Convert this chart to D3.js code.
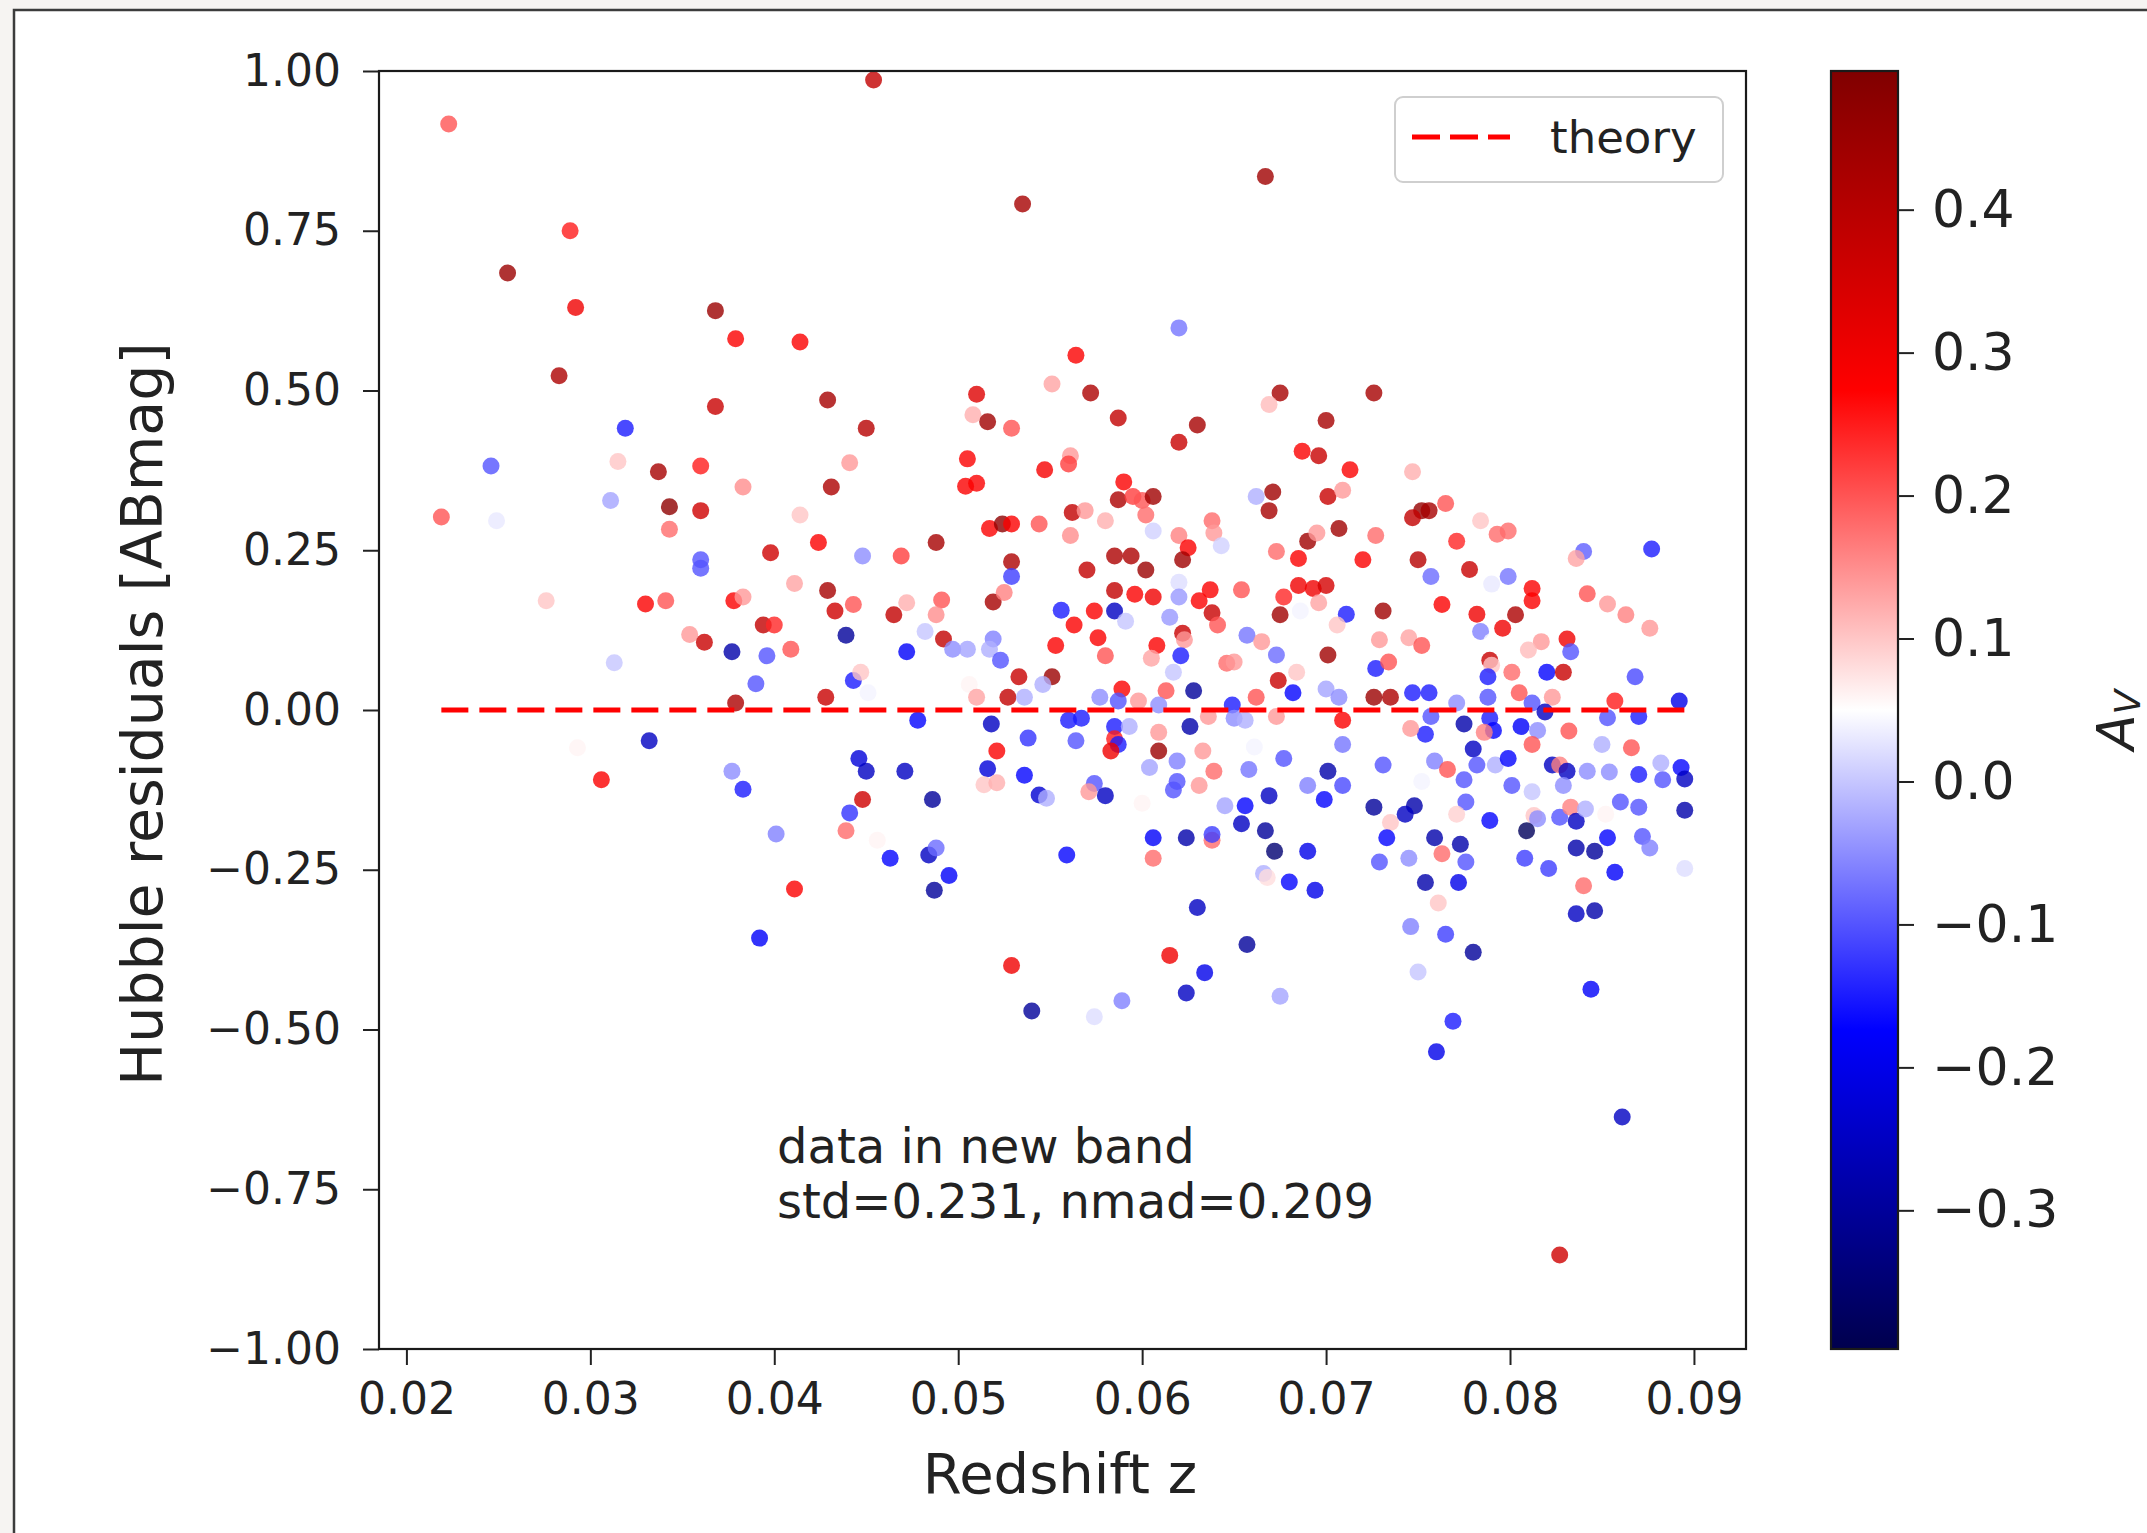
<!DOCTYPE html>
<meta charset="utf-8">
<script src="https://d3js.org/d3.v7.min.js"></script>
<style>
  body { margin: 0; background: #f6f4f2; }
  text { font-family: "DejaVu Sans", sans-serif; fill: #222; }
</style>
<body>
<div id="my_dataviz"></div>
<script>

// redshift z of every point (left to right, top to bottom per region)
var redshift = [
  0.0223,0.0289,0.0255,0.0292,0.0283,0.0319,0.0246,0.0315,0.0337,0.0360,0.0311,0.0219,0.0249,0.0343,0.0360,0.0343,0.0360,0.0360,0.0276,0.0330,0.0341,0.0354,0.0362,0.0313,0.0368,0.0368,0.0293,0.0332,0.0306,
  0.0454,0.0535,0.0379,0.0414,0.0429,0.0450,0.0510,0.0508,0.0516,0.0529,0.0551,0.0441,0.0383,0.0431,0.0505,0.0504,0.0510,0.0547,0.0414,0.0424,
  0.0398,0.0448,0.0469,0.0488,0.0517,0.0524,0.0529,0.0544,0.0529,0.0529,0.0411,0.0378,0.0383,0.0429,0.0433,0.0443,0.0394,0.0400,0.0465,0.0472,
  0.0491,0.0488,0.0519,0.0525,0.0556,0.0377,0.0396,0.0409,0.0439,0.0472,0.0482,0.0492,0.0497,0.0505,0.0519,0.0517,0.0523,0.0553,0.0390,0.0443,
  0.0447,0.0451,0.0379,0.0428,0.0506,0.0510,0.0533,0.0527,0.0536,0.0551,0.0546,
  0.0377,0.0383,0.0401,0.0411,0.0392,0.0446,0.0450,0.0448,0.0441,0.0439,0.0456,0.0471,0.0478,0.0463,0.0486,0.0484,0.0488,0.0495,0.0487,0.0518,
  0.0521,0.0516,0.0514,0.0521,0.0538,0.0536,0.0544,0.0548,0.0529,0.0540,
  0.0667,0.0620,0.0564,0.0572,0.0587,0.0630,0.0620,0.0675,0.0669,0.0726,0.0700,0.0687,0.0696,0.0713,0.0561,0.0560,0.0590,0.0587,0.0595,0.0600,
  0.0606,0.0602,0.0562,0.0569,0.0580,0.0561,0.0606,0.0662,0.0671,0.0669,0.0638,0.0639,0.0643,0.0620,0.0625,0.0622,0.0585,0.0594,0.0570,0.0602,
  0.0701,0.0709,0.0707,0.0690,0.0695,0.0673,0.0685,0.0720,0.0727,0.0720,0.0620,0.0620,0.0585,0.0596,0.0606,0.0631,0.0637,0.0638,0.0641,0.0654,
  0.0677,0.0685,0.0693,0.0700,0.0696,0.0675,0.0686,0.0711,0.0706,0.0731,0.0574,0.0585,0.0591,0.0563,0.0615,0.0576,0.0580,0.0608,0.0605,0.0622,
  0.0623,0.0621,0.0617,0.0657,0.0665,0.0673,0.0646,0.0650,0.0674,0.0682,0.0684,0.0701,0.0700,0.0707,0.0727,0.0734,0.0729,0.0726,0.0735,0.0589,
  0.0577,0.0587,0.0613,0.0628,0.0662,0.0649,0.0598,0.0609,
  0.0560,0.0567,0.0564,0.0585,0.0585,0.0587,0.0583,0.0593,0.0609,0.0609,0.0626,0.0636,0.0650,0.0656,0.0673,0.0709,0.0709,0.0604,0.0619,0.0633,
  0.0639,0.0631,0.0619,0.0617,0.0658,0.0661,0.0677,0.0701,0.0709,0.0690,0.0699,0.0731,0.0726,0.0735,0.0733,0.0729,0.0574,0.0571,0.0580,0.0600,
  0.0645,0.0656,0.0669,0.0654,0.0667,0.0672,0.0690,0.0606,0.0606,0.0624,0.0638,0.0638,0.0559,0.0666,0.0668,0.0680,0.0694,0.0630,0.0615,0.0657,
  0.0634,0.0624,0.0589,0.0574,0.0675,
  0.0747,0.0752,0.0756,0.0747,0.0765,0.0784,0.0793,0.0799,0.0771,0.0750,0.0757,0.0778,0.0790,0.0799,0.0840,0.0836,0.0877,0.0763,0.0782,0.0803,
  0.0796,0.0812,0.0812,0.0842,0.0853,0.0863,0.0876,0.0784,0.0745,0.0752,0.0790,0.0817,0.0810,0.0831,0.0833,0.0846,0.0789,0.0790,0.0788,0.0801,
  0.0820,0.0829,0.0868,0.0892,0.0857,0.0747,0.0756,0.0771,0.0788,0.0805,0.0823,0.0812,
  0.0754,0.0757,0.0775,0.0789,0.0791,0.0786,0.0806,0.0815,0.0819,0.0832,0.0812,0.0850,0.0853,0.0870,0.0866,0.0746,0.0780,0.0759,0.0766,0.0782,
  0.0792,0.0799,0.0775,0.0801,0.0823,0.0827,0.0831,0.0829,0.0842,0.0854,0.0870,0.0882,0.0883,0.0893,0.0895,0.0812,0.0752,0.0776,0.0748,0.0743,
  0.0771,0.0789,0.0813,0.0815,0.0827,0.0833,0.0836,0.0841,0.0852,0.0860,0.0870,0.0895,0.0809,0.0759,0.0773,0.0763,0.0776,0.0745,0.0808,0.0821,
  0.0836,0.0846,0.0853,0.0857,0.0872,0.0876,0.0895,0.0754,0.0772,0.0761,0.0840,0.0836,0.0846,0.0746,0.0765,0.0780,0.0750,0.0844,0.0769,0.0760,
  0.0861,0.0827
];

// Hubble residuals [ABmag]
var residual = [
  0.917,0.750,0.684,0.630,0.523,0.441,0.382,0.389,0.373,0.382,0.328,0.302,0.296,0.318,0.312,0.283,0.235,0.222,0.171,0.166,0.171,0.118,0.106,0.074,0.625,0.475,-0.059,-0.048,-0.109,
  0.986,0.792,0.581,0.576,0.485,0.441,0.494,0.462,0.451,0.441,0.510,0.387,0.349,0.349,0.393,0.350,0.355,0.376,0.305,0.262,
  0.246,0.241,0.241,0.262,0.284,0.291,0.291,0.291,0.232,0.209,0.198,0.171,0.177,0.187,0.155,0.165,0.133,0.133,0.149,0.168,
  0.172,0.149,0.169,0.184,0.156,0.091,0.085,0.095,0.117,0.091,0.123,0.111,0.095,0.095,0.111,0.095,0.078,0.101,0.041,0.046,
  0.059,0.027,0.011,0.020,0.040,0.020,0.052,0.020,0.020,0.052,0.040,
  -0.096,-0.124,-0.194,-0.280,-0.357,-0.076,-0.096,-0.140,-0.161,-0.189,-0.204,-0.096,-0.016,-0.232,-0.140,-0.227,-0.216,-0.259,-0.282,-0.022,
  -0.064,-0.092,-0.117,-0.114,-0.044,-0.102,-0.133,-0.138,-0.400,-0.471,
  0.835,0.598,0.555,0.496,0.457,0.446,0.419,0.496,0.478,0.496,0.453,0.405,0.398,0.376,0.398,0.385,0.357,0.329,0.334,0.328,
  0.334,0.305,0.309,0.312,0.296,0.273,0.280,0.334,0.341,0.312,0.296,0.277,0.257,0.273,0.254,0.235,0.241,0.241,0.219,0.219,
  0.334,0.344,0.284,0.264,0.277,0.248,0.237,0.235,0.273,0.209,0.200,0.177,0.187,0.181,0.177,0.171,0.188,0.152,0.133,0.188,
  0.177,0.195,0.190,0.195,0.168,0.149,0.155,0.150,0.133,0.155,0.155,0.155,0.139,0.133,0.145,0.113,0.085,0.101,0.081,0.120,
  0.110,0.085,0.059,0.117,0.107,0.086,0.073,0.075,0.046,0.027,0.059,0.086,0.033,0.020,0.065,0.075,0.110,0.020,0.020,0.033,
  0.020,0.014,0.030,0.030,0.020,0.008,0.014,0.008,
  -0.016,-0.013,-0.048,-0.026,-0.045,-0.054,-0.064,-0.026,-0.035,-0.064,-0.026,-0.010,-0.013,-0.016,-0.010,-0.016,-0.054,-0.090,-0.080,-0.064,
  -0.096,-0.118,-0.112,-0.125,-0.093,-0.058,-0.076,-0.096,-0.118,-0.118,-0.140,-0.086,-0.152,-0.176,-0.200,-0.238,-0.115,-0.128,-0.134,-0.146,
  -0.150,-0.150,-0.134,-0.178,-0.189,-0.221,-0.221,-0.200,-0.232,-0.200,-0.204,-0.195,-0.227,-0.256,-0.262,-0.269,-0.282,-0.309,-0.384,-0.367,
  -0.411,-0.443,-0.455,-0.480,-0.448,
  0.373,0.312,0.312,0.301,0.323,0.296,0.275,0.280,0.264,0.235,0.209,0.220,0.197,0.209,0.248,0.237,0.252,0.165,0.150,0.149,
  0.128,0.190,0.171,0.182,0.166,0.149,0.128,0.123,0.113,0.101,0.107,0.107,0.094,0.111,0.091,0.113,0.078,0.070,0.052,0.059,
  0.059,0.059,0.052,0.014,0.014,0.027,0.027,0.011,0.020,0.027,0.020,0.011,
  -0.038,-0.010,-0.022,-0.013,-0.032,-0.035,-0.026,-0.032,-0.003,-0.033,-0.054,-0.054,-0.012,-0.010,-0.059,-0.029,-0.061,-0.080,-0.093,-0.086,
  -0.086,-0.076,-0.109,-0.118,-0.086,-0.086,-0.096,-0.118,-0.096,-0.097,-0.101,-0.083,-0.109,-0.090,-0.108,-0.128,-0.112,-0.144,-0.150,-0.163,
  -0.163,-0.173,-0.165,-0.170,-0.168,-0.152,-0.174,-0.155,-0.163,-0.144,-0.152,-0.157,-0.189,-0.200,-0.210,-0.225,-0.238,-0.232,-0.232,-0.248,
  -0.216,-0.221,-0.200,-0.254,-0.198,-0.216,-0.248,-0.270,-0.270,-0.302,-0.275,-0.319,-0.314,-0.339,-0.351,-0.379,-0.410,-0.437,-0.487,-0.535,
  -0.637,-0.853
];

// A_V (colour) of every point
var av = [
  0.20,0.25,0.45,0.30,0.42,-0.15,-0.10,0.10,0.43,0.25,-0.03,0.20,0.03,0.47,0.36,0.18,-0.10,-0.10,0.10,0.28,0.20,0.14,0.37,0.00,0.45,0.37,0.06,-0.25,0.28,
  0.38,0.43,0.28,0.28,0.43,0.40,0.33,0.12,0.44,0.20,0.13,0.14,0.15,0.42,0.28,0.28,0.28,0.29,0.10,0.28,
  0.36,-0.05,0.22,0.43,0.28,0.47,0.28,0.20,0.42,-0.12,0.13,0.28,0.14,0.43,0.36,0.20,0.38,0.24,0.38,0.12,
  0.20,0.15,0.43,0.16,-0.15,-0.28,-0.10,0.20,-0.30,-0.18,0.00,0.38,-0.05,-0.03,-0.06,-0.02,-0.10,0.28,-0.10,-0.15,
  0.10,0.04,0.42,0.37,0.06,0.13,0.37,0.38,-0.02,0.45,-0.02,
  -0.05,-0.15,-0.06,0.28,-0.18,-0.22,-0.25,0.36,-0.13,0.18,0.06,-0.25,-0.17,-0.17,-0.30,-0.25,-0.08,-0.18,-0.30,-0.25,
  0.28,-0.22,0.10,0.12,-0.13,-0.17,-0.23,-0.02,0.30,-0.30,
  0.44,-0.07,0.28,0.42,0.38,0.43,0.37,0.43,0.11,0.43,0.43,0.28,0.37,0.28,0.14,0.22,0.28,0.42,0.22,0.20,
  0.44,0.18,0.38,0.14,0.12,0.15,0.01,-0.02,0.44,0.43,0.18,0.14,0.01,0.16,0.28,0.44,0.42,0.42,0.38,0.45,
  0.37,0.14,0.44,0.44,0.14,0.18,0.28,0.28,0.18,0.05,0.02,-0.04,0.38,0.28,0.30,0.28,0.28,0.37,0.20,0.20,
  0.24,0.30,0.30,0.35,0.13,0.44,0.04,-0.15,0.10,0.44,0.28,-0.25,0.00,0.28,-0.04,0.28,0.20,0.28,0.13,0.37,
  0.14,-0.15,0.00,-0.07,0.14,-0.08,0.18,0.14,0.37,-0.17,0.10,0.44,-0.03,-0.05,-0.15,0.20,0.14,0.45,0.42,0.28,
  -0.05,-0.10,0.20,-0.30,0.20,-0.15,0.14,-0.05,
  -0.15,-0.15,-0.10,-0.15,0.25,-0.15,0.30,-0.02,0.14,0.45,-0.28,0.14,-0.05,-0.02,0.14,0.28,-0.07,-0.03,-0.06,0.14,
  0.18,0.14,-0.10,-0.10,-0.07,0.04,-0.10,-0.28,-0.11,-0.06,-0.17,-0.10,-0.30,0.10,-0.17,-0.10,-0.10,0.14,-0.25,0.06,
  -0.03,-0.17,-0.25,-0.25,-0.30,-0.35,-0.20,-0.18,0.18,-0.28,0.18,-0.12,-0.17,-0.02,0.08,-0.17,-0.20,-0.25,0.30,-0.30,
  -0.20,-0.25,-0.06,0.02,-0.03,
  0.12,0.46,0.43,0.38,0.20,0.10,0.18,0.18,0.24,0.40,-0.08,0.37,0.03,-0.07,-0.09,0.13,-0.15,0.28,0.30,0.42,
  0.30,0.28,0.28,0.20,0.14,0.16,0.14,-0.06,0.13,0.20,0.05,0.14,0.11,0.30,-0.10,0.05,0.37,0.10,-0.15,0.18,
  -0.17,0.37,-0.11,-0.20,0.25,-0.15,-0.15,-0.05,-0.10,0.20,0.14,-0.10,
  -0.15,-0.10,-0.28,-0.15,-0.17,0.16,-0.18,-0.05,-0.25,0.20,0.20,-0.02,-0.10,-0.15,0.20,0.14,-0.25,-0.06,0.20,-0.10,
  -0.02,-0.17,-0.10,-0.10,-0.25,0.16,-0.25,-0.05,-0.05,-0.05,-0.15,-0.02,-0.10,-0.17,-0.25,0.00,0.04,-0.10,-0.28,-0.25,
  0.09,-0.17,0.10,-0.05,-0.10,0.16,-0.25,-0.02,0.06,-0.10,-0.10,-0.28,-0.38,-0.28,-0.28,0.18,-0.10,-0.05,-0.12,-0.12,
  -0.28,-0.30,-0.17,-0.18,-0.10,-0.06,0.02,-0.28,-0.20,0.10,0.18,-0.25,-0.28,-0.06,-0.12,-0.30,0.00,-0.18,-0.15,-0.20,
  -0.25,0.36
];

var theoryZ = [0.0219, 0.0895];
var theoryResid = [0, 0];

var xTicks = [0.02, 0.03, 0.04, 0.05, 0.06, 0.07, 0.08, 0.09];
var yTicks = [1, 0.75, 0.5, 0.25, 0, -0.25, -0.5, -0.75, -1];
var avTicks = [0.4, 0.3, 0.2, 0.1, 0.0, -0.1, -0.2, -0.3];
var avRange = [-0.397, 0.497];

// matplotlib "seismic"
var seismic = ["#00004d", "#0000ff", "#ffffff", "#ff0000", "#800000"];

var W = 2147, H = 1533;
var plot = {left: 379, top: 71, right: 1746, bottom: 1349};
var cbar = {left: 1831, right: 1898};

var svg = d3.select("#my_dataviz")
  .append("svg")
    .attr("width", W)
    .attr("height", H);

// screenshot frame
svg.append("rect")
  .attr("x", 14).attr("y", 10)
  .attr("width", W + 20).attr("height", H + 20)
  .style("fill", "white")
  .style("stroke", "#3c3c3c")
  .style("stroke-width", 2.5);

var x = d3.scaleLinear()
  .domain([0.01851, 0.09283])
  .range([plot.left, plot.right]);

var y = d3.scaleLinear()
  .domain([-1, 1])
  .range([plot.bottom, plot.top]);

var span = avRange[1] - avRange[0];
var color = d3.scaleLinear()
  .domain([0, 0.25, 0.5, 0.75, 1].map(function(t) { return avRange[0] + t * span; }))
  .range(seismic)
  .interpolate(d3.interpolateRgb);

// points
var pts = redshift.map(function(z, i) { return {z: z, r: residual[i], a: av[i]}; });

svg.append("g")
  .selectAll("circle")
  .data(pts)
  .enter()
  .append("circle")
    .attr("cx", function(d) { return x(d.z); })
    .attr("cy", function(d) { return y(d.r); })
    .attr("r", 8.5)
    .style("fill", function(d) { return color(d.a); })
    .style("opacity", 0.8);

// theory line
var line = d3.line()
  .x(function(d) { return x(d[0]); })
  .y(function(d) { return y(d[1]); });

svg.append("path")
  .datum(theoryZ.map(function(z, i) { return [z, theoryResid[i]]; }))
  .attr("d", line)
  .style("fill", "none")
  .style("stroke", "#ff0000")
  .style("stroke-width", 5)
  .style("stroke-dasharray", "27,11");

// axes
var xAxis = svg.append("g")
  .attr("transform", "translate(0," + plot.bottom + ")")
  .call(d3.axisBottom(x).tickValues(xTicks).tickFormat(d3.format(".2f"))
        .tickSize(16).tickPadding(18).tickSizeOuter(0));

var yAxis = svg.append("g")
  .attr("transform", "translate(" + plot.left + ",0)")
  .call(d3.axisLeft(y).tickValues(yTicks).tickFormat(d3.format(".2f"))
        .tickSize(16).tickPadding(22).tickSizeOuter(0));

[xAxis, yAxis].forEach(function(g) {
  g.select(".domain").remove();
  g.attr("font-family", "DejaVu Sans").attr("font-size", 44);
  g.selectAll("line").style("stroke", "#222").style("stroke-width", 2);
});

svg.append("rect")
  .attr("x", plot.left).attr("y", plot.top)
  .attr("width", plot.right - plot.left).attr("height", plot.bottom - plot.top)
  .style("fill", "none")
  .style("stroke", "#1a1a1a")
  .style("stroke-width", 2.2);

svg.append("text")
  .attr("x", 1060)
  .attr("y", 1493)
  .attr("text-anchor", "middle")
  .style("font-size", "56px")
  .text("Redshift z");

svg.append("text")
  .attr("transform", "translate(162,714) rotate(-90)")
  .attr("text-anchor", "middle")
  .style("font-size", "57px")
  .text("Hubble residuals [ABmag]");

// annotation
svg.append("text")
  .attr("x", 777).attr("y", 1163)
  .style("font-size", "48px")
  .text("data in new band");
svg.append("text")
  .attr("x", 777).attr("y", 1218)
  .style("font-size", "48px")
  .text("std=0.231, nmad=0.209");

// legend
svg.append("rect")
  .attr("x", 1395).attr("y", 97)
  .attr("width", 328).attr("height", 85)
  .attr("rx", 8)
  .style("fill", "white")
  .style("fill-opacity", 0.8)
  .style("stroke", "#cfcfcf")
  .style("stroke-width", 2);
svg.append("line")
  .attr("x1", 1412).attr("x2", 1510)
  .attr("y1", 137).attr("y2", 137)
  .style("stroke", "#ff0000")
  .style("stroke-width", 5)
  .style("stroke-dasharray", "28,10");
svg.append("text")
  .attr("x", 1550).attr("y", 153)
  .style("font-size", "45px")
  .text("theory");

// colorbar
var cy = d3.scaleLinear()
  .domain(avRange)
  .range([plot.bottom, plot.top]);

var grad = svg.append("defs").append("linearGradient")
  .attr("id", "cgrad")
  .attr("x1", 0).attr("y1", 1).attr("x2", 0).attr("y2", 0);
grad.selectAll("stop")
  .data(seismic)
  .enter()
  .append("stop")
    .attr("offset", function(d, i) { return i / (seismic.length - 1); })
    .attr("stop-color", function(d) { return d; });

svg.append("rect")
  .attr("x", cbar.left).attr("y", cy(avRange[1]))
  .attr("width", cbar.right - cbar.left)
  .attr("height", cy(avRange[0]) - cy(avRange[1]))
  .style("fill", "url(#cgrad)")
  .style("stroke", "#1a1a1a")
  .style("stroke-width", 2.2);

var cAxis = svg.append("g")
  .attr("transform", "translate(" + cbar.right + ",0)")
  .call(d3.axisRight(cy).tickValues(avTicks).tickFormat(d3.format(".1f"))
        .tickSize(16).tickPadding(18).tickSizeOuter(0));
cAxis.select(".domain").remove();
cAxis.attr("font-family", "DejaVu Sans").attr("font-size", 52);
cAxis.selectAll("line").style("stroke", "#222").style("stroke-width", 2);

var clab = svg.append("text")
  .attr("transform", "translate(2134,720) rotate(-90)")
  .attr("text-anchor", "middle")
  .style("font-size", "52px");
clab.append("tspan").style("font-style", "italic").text("A");
clab.append("tspan").style("font-style", "italic").style("font-size", "36px")
  .attr("dy", 6).text("V");

</script>
</body>
